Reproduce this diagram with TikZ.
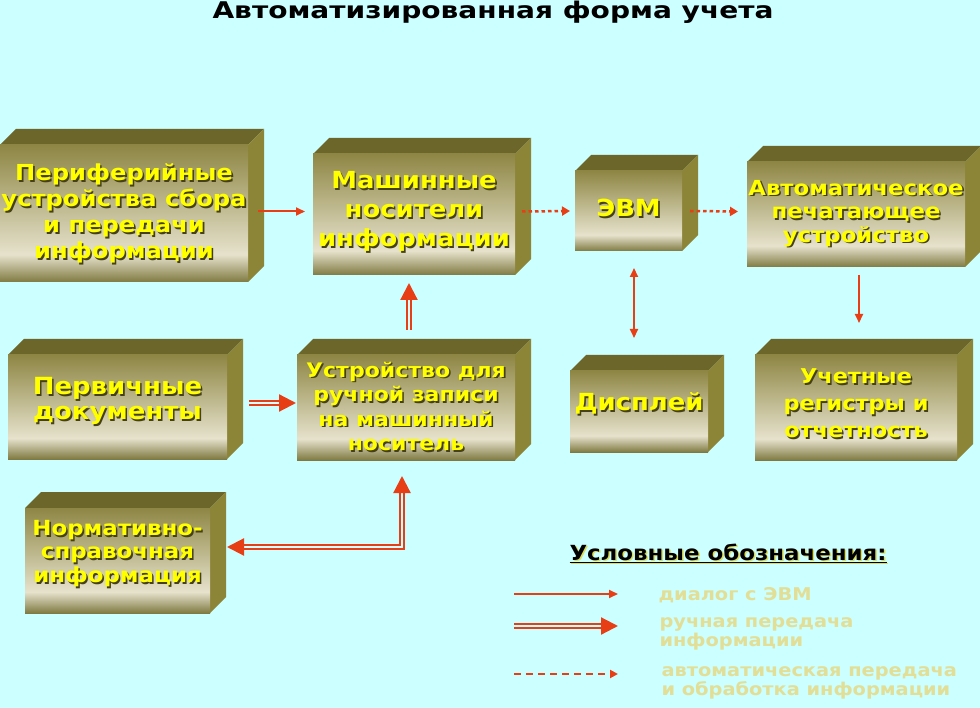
\documentclass[tikz,border=0pt]{standalone}
\usepackage{fontspec}
\setmainfont{DejaVu Sans}[FakeStretch=1.1]
\newfontfamily\titlefont{DejaVu Sans}[FakeStretch=1.22]
\usetikzlibrary{arrows.meta}
\definecolor{bg}{RGB}{204,255,255}
\definecolor{topf}{RGB}{108,102,42}
\definecolor{sidef}{RGB}{140,132,54}
\definecolor{faceT}{RGB}{142,134,68}
\definecolor{faceL}{RGB}{230,226,204}
\definecolor{faceB}{RGB}{128,122,66}
\definecolor{ytext}{RGB}{255,255,0}
\definecolor{shd}{RGB}{70,64,24}
\definecolor{arr}{RGB}{232,62,22}
\definecolor{legt}{RGB}{226,222,150}
\definecolor{legsh}{RGB}{220,220,90}
\pgfdeclareverticalshading{boxshade}{100bp}{color(0bp)=(faceB); color(25bp)=(faceB); color(35bp)=(faceL); color(75bp)=(faceT); color(100bp)=(faceT)}
\def\dep{16}
\tikzset{
  face/.style={shading=boxshade, inner sep=0pt, outer sep=0pt},
  ytxt/.style={text=ytext, align=center, inner sep=0pt},
  stxt/.style={text=shd, align=center, inner sep=0pt},
  thinarrow/.style={draw=arr, line width=2pt, -{Triangle[length=9pt,width=8pt]}},
  thinboth/.style={draw=arr, line width=2pt, {Triangle[length=9pt,width=8pt]}-{Triangle[length=9pt,width=8pt]}},
  dotarrow/.style={draw=arr, line width=2.5pt, dash pattern=on 3.5pt off 3pt, -{Triangle[length=8pt,width=9pt]}},
  dblarrow/.style={draw=arr, double=bg, double distance=2.4pt, line width=2.2pt, -{Triangle[length=17pt,width=17pt]}},
  dblboth/.style={draw=arr, double=bg, double distance=2.4pt, line width=2.2pt, {Triangle[length=17pt,width=17pt]}-{Triangle[length=17pt,width=17pt]}},
}
% name, x1, y1, x2, y2, font, text, text yshift (negative = up)
\newcommand\cube[8]{%
  \fill[topf] (#2,#3) -- ({#2+\dep},{#3-\dep}) -- ({#4+\dep},{#3-\dep}) -- (#4,#3) -- cycle;
  \fill[sidef] (#4,#3) -- ({#4+\dep},{#3-\dep}) -- ({#4+\dep},{#5-\dep}) -- (#4,#5) -- cycle;
  \node[face, minimum width={(#4-#2)*1pt}, minimum height={(#5-#3)*1pt}] (#1) at ({(#2+#4)/2},{(#3+#5)/2}) {};
  \node[stxt, font=#6] (#1-s) at ([shift={(1.6,{1.6+#8})}]#1.center) {#7};
  \node[ytxt, font=#6] (#1-t) at ([shift={(0,#8)}]#1.center) {#7};
}
\begin{document}
\begin{tikzpicture}[x=1pt,y=-1pt]
\fill[bg] (0,0) rectangle (980,708);
\useasboundingbox (0,0) rectangle (980,708);
\node[font=\titlefont\fontsize{23}{26}\selectfont\bfseries] (title) at (493,12) {Автоматизированная форма учета};

\cube{per}{0}{145}{248}{282}{\fontsize{22}{26}\selectfont\bfseries}{Периферийные\\устройства сбора\\и передачи\\информации}{0}
\cube{mash}{313}{154}{515}{275}{\fontsize{23.5}{29}\selectfont\bfseries}{Машинные\\носители\\информации}{-3}
\cube{evm}{575}{171}{682}{251}{\fontsize{23.5}{28}\selectfont\bfseries}{ЭВМ}{-3}
\cube{avto}{747}{162}{965}{267}{\fontsize{20.7}{23.5}\selectfont\bfseries}{Автоматическое\\печатающее\\устройство}{-1}
\cube{perv}{8}{355}{227}{459}{\fontsize{23.6}{25}\selectfont\bfseries}{Первичные\\документы}{-6}
\cube{ustr}{297}{355}{515}{460}{\fontsize{20}{24.5}\selectfont\bfseries}{Устройство для\\ручной записи\\на машинный\\носитель}{-1}
\cube{disp}{570}{371}{708}{452}{\fontsize{23.5}{28}\selectfont\bfseries}{Дисплей}{-8}
\cube{uch}{755}{355}{957}{460}{\fontsize{20.4}{27}\selectfont\bfseries}{Учетные\\регистры и\\отчетность}{-4}
\cube{norm}{25}{508}{210}{613}{\fontsize{20.8}{23.5}\selectfont\bfseries}{Нормативно-\\справочная\\информация}{-7}

% connectors
\draw[thinarrow] ([shift={(10,-2)}]per.east) -- ([shift={(-8,-3)}]mash.west);
\draw[dotarrow] ([shift={(7,-3)}]mash.east) -- ([shift={(-5,0)}]evm.west);
\draw[dotarrow] ([shift={(8,0)}]evm.east) -- ([shift={(-9,-3)}]avto.west);
\draw[thinboth] ([shift={(5.5,17)}]evm.south) -- ([shift={(-5,-33)}]disp.north);
\draw[thinarrow] ([shift={(3,8)}]avto.south) -- ([shift={(3,-32)}]uch.north);
\draw[dblarrow] ([shift={(22,-4)}]perv.east) -- ([shift={(-1,-4.5)}]ustr.west);
\draw[dblarrow] ([shift={(3,-25)}]ustr.north) -- ([shift={(-5,8)}]mash.south);
\draw[dblboth] ([shift={(17,-13.5)}]norm.east) -| ([shift={(-4,16)}]ustr.south);

% legend
\node[text=legsh, font=\fontsize{20.8}{24}\selectfont\bfseries] (legh-s) at (729.5,554.5) {\underline{Условные обозначения:}};
\node[font=\fontsize{20.8}{24}\selectfont\bfseries] (legh) at (728,553) {\underline{Условные обозначения:}};
\coordinate (l1s) at (514,594); \coordinate (l1e) at (618,594);
\coordinate (l2s) at (514,626); \coordinate (l2e) at (618,626);
\coordinate (l3s) at (514,674); \coordinate (l3e) at (618,674);
\draw[thinarrow] (l1s) -- (l1e);
\draw[dblarrow] (l2s) -- (l2e);
\draw[draw=arr, line width=2pt, dash pattern=on 7pt off 5pt, -{Triangle[length=8pt,width=8pt]}] (l3s) -- (l3e);
\node[anchor=west, text=legt, font=\fontsize{17.6}{19}\selectfont\bfseries] (lt1) at (655,595) {диалог с ЭВМ};
\node[anchor=west, align=left, text=legt, font=\fontsize{17.6}{19}\selectfont\bfseries] (lt2) at (656,634) {ручная передача\\информации};
\node[anchor=west, align=left, text=legt, font=\fontsize{17.6}{19}\selectfont\bfseries] (lt3) at (658,683) {автоматическая передача\\и обработка информации};
\end{tikzpicture}
\end{document}
